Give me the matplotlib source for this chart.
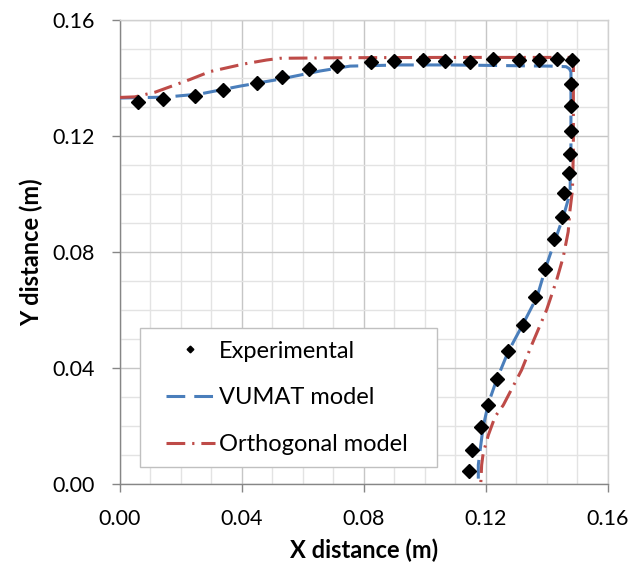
import matplotlib
matplotlib.use("Agg")
import matplotlib.pyplot as plt
import numpy as np
from matplotlib.ticker import MultipleLocator
from matplotlib.patches import Rectangle

plt.rcParams['font.family'] = ['Lato', 'DejaVu Sans']
plt.rcParams['lines.scale_dashes'] = False

# Experimental data
exp_x = [0.0060, 0.0142, 0.0246, 0.0337, 0.0449, 0.0531, 0.0620, 0.0713, 0.0823,
         0.0900, 0.0993, 0.1067, 0.1150, 0.1225, 0.1308, 0.1374, 0.1433, 0.1485,
         0.1479, 0.1479, 0.1479, 0.1476, 0.1474, 0.1458, 0.1450, 0.1425, 0.1395,
         0.1363, 0.1324, 0.1274, 0.1237, 0.1207, 0.1185, 0.1155, 0.1144]
exp_y = [0.1316, 0.1327, 0.1339, 0.1359, 0.1382, 0.1404, 0.1430, 0.1442, 0.1455,
         0.1460, 0.1462, 0.1459, 0.1455, 0.1464, 0.1463, 0.1462, 0.1467, 0.1462,
         0.1380, 0.1303, 0.1216, 0.1137, 0.1071, 0.1002, 0.0920, 0.0845, 0.0741,
         0.0645, 0.0548, 0.0458, 0.0362, 0.0273, 0.0196, 0.0117, 0.0045]

# VUMAT model
vumat_x = [0.0, 0.0148, 0.0263, 0.0394, 0.0525, 0.0656, 0.0755, 0.0919, 0.1083,
           0.1247, 0.1411, 0.1464, 0.1475, 0.1480, 0.1480, 0.1480, 0.1477, 0.1455,
           0.1428, 0.1398, 0.1369, 0.1324, 0.1274, 0.1236, 0.1209, 0.1192, 0.1182,
           0.1176, 0.1176]
vumat_y = [0.1331, 0.1334, 0.1345, 0.1372, 0.1396, 0.1424, 0.1441, 0.1445, 0.1445,
           0.1443, 0.1441, 0.1439, 0.1432, 0.1421, 0.1324, 0.1152, 0.1003, 0.0922,
           0.0841, 0.0749, 0.0646, 0.0554, 0.0456, 0.0359, 0.0278, 0.0198, 0.0117,
           0.0066, 0.0]

# Orthogonal model
orth_x = [0.0, 0.0049, 0.0115, 0.0230, 0.0295, 0.0405, 0.0481, 0.0525, 0.0755,
          0.1083, 0.1313, 0.1482, 0.1488, 0.1488, 0.1485, 0.1477, 0.1471, 0.1455,
          0.1433, 0.1400, 0.1351, 0.1318, 0.1258, 0.1231, 0.1209, 0.1192, 0.1187,
          0.1184]
orth_y = [0.1333, 0.1335, 0.1351, 0.1395, 0.1422, 0.1448, 0.1462, 0.1468, 0.1470,
          0.1471, 0.1471, 0.1471, 0.1445, 0.1152, 0.1014, 0.0945, 0.0870, 0.0784,
          0.0703, 0.0600, 0.0479, 0.0393, 0.0272, 0.0232, 0.0169, 0.0106, 0.0066,
          0.0]

ticks = [0.00, 0.04, 0.08, 0.12, 0.16]
tick_labels = ['0.00', '0.04', '0.08', '0.12', '0.16']

fig = plt.figure(figsize=(6.43, 5.66), dpi=100)
ax = fig.add_axes([120/643, (566-484)/566, (607.5-120)/643, (484-20)/566])

ax.set_xlim(0, 0.16)
ax.set_ylim(0, 0.16)
ax.xaxis.set_minor_locator(MultipleLocator(0.01))
ax.yaxis.set_minor_locator(MultipleLocator(0.01))
ax.grid(which='minor', color='#e3e3e3', linewidth=1.0, zorder=0)
ax.grid(which='major', color='#c6c6c6', linewidth=1.0, zorder=0)
ax.set_axisbelow(True)

ax.plot(vumat_x, vumat_y, color='#4a7ebb', linewidth=2.2, dashes=(13.5, 6.5),
        label='VUMAT model', zorder=3)
ax.plot(orth_x, orth_y, color='#be4b48', linewidth=2.2, dashes=(13.5, 5, 1.6, 5),
        label='Orthogonal model', zorder=3)
ax.plot(exp_x, exp_y, linestyle='none', marker='D', markersize=6.8, color='black',
        label='Experimental', zorder=4)

ax.set_xticks(ticks)
ax.set_xticklabels(tick_labels)
ax.set_yticks(ticks)
ax.set_yticklabels(tick_labels)
ax.tick_params(which='major', direction='out', length=6, width=1, color='#868686',
               labelsize=15.5, pad=12)
ax.tick_params(which='minor', length=0)

for s in ['left', 'bottom']:
    ax.spines[s].set_color('#868686')
    ax.spines[s].set_linewidth(1.0)
for s in ['top', 'right']:
    ax.spines[s].set_color('#d0d0d0')
    ax.spines[s].set_linewidth(1.0)

ax.set_xlabel('X distance (m)', fontsize=17, fontweight='bold', labelpad=7)
ax.set_ylabel('Y distance (m)', fontsize=17, fontweight='bold', labelpad=7)

# legend frame
x0 = (140 - 120) / 487.5
x1 = (437 - 120) / 487.5
y0 = (484 - 467) / 464
y1 = (484 - 328) / 464
ax.add_patch(Rectangle((x0, y0), x1 - x0, y1 - y0, transform=ax.transAxes,
                       facecolor='white', edgecolor='#c0c0c0', linewidth=1.0,
                       zorder=5))

h, l = ax.get_legend_handles_labels()
order = [2, 0, 1]
leg = ax.legend([h[i] for i in order], [l[i] for i in order],
                loc='center left',
                bbox_to_anchor=((165.7 - 120) / 487.5, (484 - 398) / 464),
                fontsize=17, frameon=False, markerscale=0.5, handlelength=2.1,
                handletextpad=0.15, labelspacing=1.1, borderpad=0,
                borderaxespad=0)
leg.set_zorder(6)

fig.savefig('out.png', dpi=100)
